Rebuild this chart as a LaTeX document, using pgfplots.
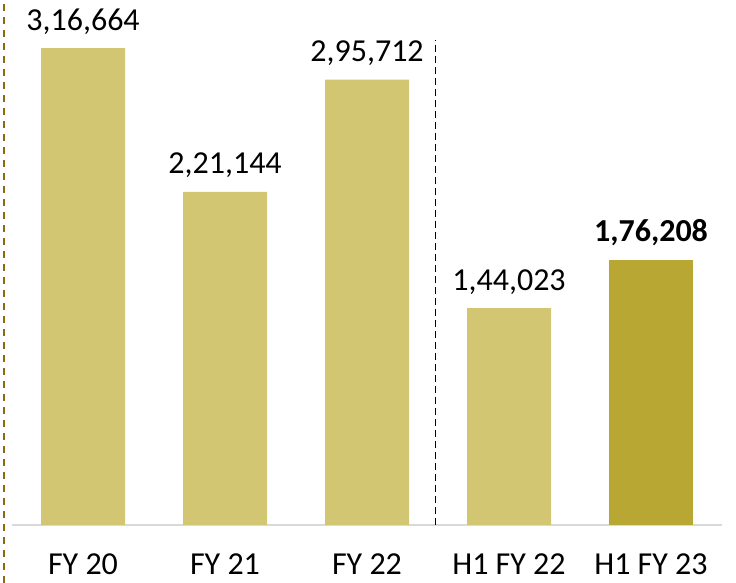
\documentclass[border=0pt]{standalone}
\usepackage{fontspec}
\setmainfont{Carlito}
\usepackage{pgfplots}
\usepackage{pgfplotstable}
\pgfplotsset{compat=1.18}
\definecolor{barlight}{HTML}{D2C672}
\definecolor{bardark}{HTML}{B8A833}
\definecolor{edgebrown}{HTML}{8C6A10}
\definecolor{axisgray}{HTML}{D9D9D9}
\pgfplotstableread{
x y lab
0 316664 3,16,664
1 221144 2,21,144
2 295712 2,95,712
3 144023 1,44,023
}\lighttable
\pgfplotstableread{
x y lab
4 176208 1,76,208
}\darktable
\begin{document}
\begin{tikzpicture}[x=1pt,y=1pt]
\useasboundingbox (-12,-58) rectangle (724,525);
\draw[edgebrown, line width=2.6pt, dash pattern=on 7pt off 6pt] (-8,-58) -- (-8,525);
\begin{axis}[
  at={(0,0)}, anchor=south west,
  scale only axis, width=710pt, height=525pt,
  xmin=-0.5, xmax=4.5, ymin=0, ymax=348540,
  axis y line=none, axis x line*=bottom,
  x axis line style={axisgray, line width=1.5pt},
  major tick length=0pt,
  xtick={0,1,2,3,4},
  xticklabels={FY 20, FY 21, FY 22, H1 FY 22, H1 FY 23},
  xticklabel style={font=\fontsize{32}{38}\selectfont, anchor=base, yshift=-50pt, inner sep=0pt},
  ybar, bar width=84pt, bar shift=0pt,
  clip=false,
  point meta=explicit symbolic,
  nodes near coords,
  every node near coord/.append style={font=\fontsize{32}{38}\selectfont, anchor=base, yshift=18pt, inner sep=0pt},
]
\addplot[fill=barlight, draw=none] table[x=x, y=y, meta=lab] {\lighttable};
\addplot[fill=bardark, draw=none, every node near coord/.append style={font=\fontsize{32}{38}\selectfont\bfseries}] table[x=x, y=y, meta=lab] {\darktable};
\draw[black, line width=1pt, dash pattern=on 7pt off 4pt] (axis cs:2.48,0) -- (axis cs:2.48,322000);
\end{axis}
\end{tikzpicture}
\end{document}
